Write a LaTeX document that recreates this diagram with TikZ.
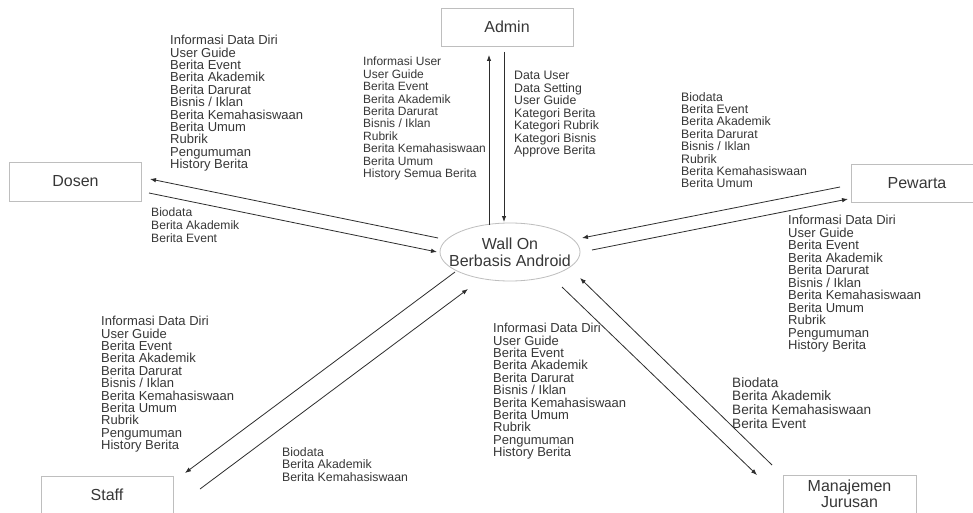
\documentclass[tikz,border=0pt]{standalone}
\usepackage{fontspec}
\setmainfont{Liberation Sans}
\usetikzlibrary{arrows.meta,calc,shapes.geometric}
\definecolor{txt}{RGB}{55,55,55}
\definecolor{edge}{RGB}{190,190,190}
\definecolor{ln}{RGB}{45,45,45}
\begin{document}
\begin{tikzpicture}[x=1pt,y=-1pt,
  box/.style={draw=edge, line width=0.8pt, rectangle, minimum width=132pt, minimum height=38pt, inner sep=0pt, text=txt, font=\fontsize{16}{16.5}\selectfont, align=center},
  oval/.style={draw=edge, line width=0.8pt, ellipse, minimum width=140pt, minimum height=58pt, inner sep=0pt},
  lst/.style 2 args={anchor=north west, inner sep=0pt, align=left, text=txt, font=\fontsize{#1}{#2}\selectfont},
  flow/.style={draw=ln, line width=0.8pt, -{Latex[length=6pt,width=4.5pt]}}]
\clip (0,0) rectangle (973,513);
\fill[white] (0,0) rectangle (973,513);

% entities
\node[box] (admin) at (507,27) {Admin};
\node[box, minimum height=39pt] (dosen) at (75.5,181.5) {Dosen};
\node[box] (pewarta) at (917,183) {Pewarta};
\node[box] (staff) at (107,495) {Staff};
\node[box, minimum width=133pt] (manaj) at (849.5,494) {Manajemen\\Jurusan};
\node[oval, label={[text=txt, font=\fontsize{16}{17}\selectfont, align=center]center:Wall On\\Berbasis Android}] (wall) at (510,252) {};

% connectors
\draw[flow] ($(wall)+(-72,-14)$) -- ($(dosen)+(74.5,-2.5)$);
\draw[flow] ($(dosen)+(73.5,11.5)$) -- ($(wall)+(-73,0)$);
\draw[flow] ($(wall)+(-21,-27)$) -- ($(admin)+(-18,28)$);
\draw[flow] ($(admin)+(-3,25)$) -- ($(wall)+(-6,-30)$);
\draw[flow] ($(pewarta)+(-77,4)$) -- ($(wall)+(72,-14)$);
\draw[flow] ($(wall)+(82,-2)$) -- ($(pewarta)+(-69,16)$);
\draw[flow] ($(wall)+(-55,20)$) -- ($(staff)+(78,-22)$);
\draw[flow] ($(staff)+(93,-6)$) -- ($(wall)+(-42,37)$);
\draw[flow] ($(wall)+(52,35)$) -- ($(manaj)+(-92.5,-19)$);
\draw[flow] ($(manaj)+(-77.5,-29)$) -- ($(wall)+(70,26)$);

% labels
\node[lst={13}{12.4}] (t1) at (170,35) {Informasi Data Diri\\User Guide\\Berita Event\\Berita Akademik\\Berita Darurat\\Bisnis / Iklan\\Berita Kemahasiswaan\\Berita Umum\\Rubrik\\Pengumuman\\History Berita};
\node[lst={12.1}{13}] (t2) at (151,208) {Biodata\\Berita Akademik\\Berita Event};
\node[lst={12}{12.4}] (t3) at (363,57) {Informasi User\\User Guide\\Berita Event\\Berita Akademik\\Berita Darurat\\Bisnis / Iklan\\Rubrik\\Berita Kemahasiswaan\\Berita Umum\\History Semua Berita};
\node[lst={12.3}{12.5}] (t4) at (514,71) {Data User\\Data Setting\\User Guide\\Kategori Berita\\Kategori Rubrik\\Kategori Bisnis\\Approve Berita};
\node[lst={12.3}{12.4}] (t5) at (681,92) {Biodata\\Berita Event\\Berita Akademik\\Berita Darurat\\Bisnis / Iklan\\Rubrik\\Berita Kemahasiswaan\\Berita Umum};
\node[lst={13}{12.5}] (t6) at (788,215) {Informasi Data Diri\\User Guide\\Berita Event\\Berita Akademik\\Berita Darurat\\Bisnis / Iklan\\Berita Kemahasiswaan\\Berita Umum\\Rubrik\\Pengumuman\\History Berita};
\node[lst={13}{12.4}] (t7) at (101,316) {Informasi Data Diri\\User Guide\\Berita Event\\Berita Akademik\\Berita Darurat\\Bisnis / Iklan\\Berita Kemahasiswaan\\Berita Umum\\Rubrik\\Pengumuman\\History Berita};
\node[lst={12.3}{12.5}] (t8) at (282,447) {Biodata\\Berita Akademik\\Berita Kemahasiswaan};
\node[lst={13}{12.4}] (t9) at (493,323) {Informasi Data Diri\\User Guide\\Berita Event\\Berita Akademik\\Berita Darurat\\Bisnis / Iklan\\Berita Kemahasiswaan\\Berita Umum\\Rubrik\\Pengumuman\\History Berita};
\node[lst={13.6}{13.7}] (t10) at (732,377) {Biodata\\Berita Akademik\\Berita Kemahasiswaan\\Berita Event};
\end{tikzpicture}
\end{document}
